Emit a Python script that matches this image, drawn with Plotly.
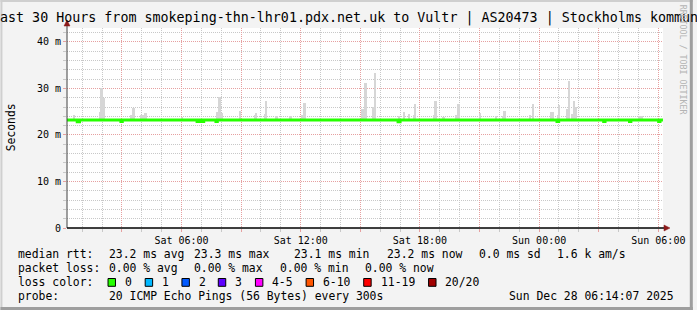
import plotly.graph_objects as go

# ---------------- data ----------------
title_text = "Last 30 Hours from smokeping-thn-lhr01.pdx.net.uk to Vultr | AS20473 | Stockholms kommun"
range_start = "2025-12-27 00:14:07"
range_end = "2025-12-28 06:14:07"

# smoke spikes (time of sample, max rtt in ms)
smoke_times = [
    "2025-12-27 00:37", "2025-12-27 01:54", "2025-12-27 01:59", "2025-12-27 02:01", "2025-12-27 02:06",
    "2025-12-27 03:30", "2025-12-27 03:36", "2025-12-27 04:00", "2025-12-27 04:04", "2025-12-27 04:12",
    "2025-12-27 06:03", "2025-12-27 07:48", "2025-12-27 07:55", "2025-12-27 08:03", "2025-12-27 08:57",
    "2025-12-27 09:42", "2025-12-27 09:46", "2025-12-27 10:12", "2025-12-27 10:16", "2025-12-27 10:48",
    "2025-12-27 11:30", "2025-12-27 12:06", "2025-12-27 12:12", "2025-12-27 15:06", "2025-12-27 15:11",
    "2025-12-27 15:16", "2025-12-27 15:40", "2025-12-27 15:46", "2025-12-27 16:58", "2025-12-27 17:12",
    "2025-12-27 17:27", "2025-12-27 17:42", "2025-12-27 17:46", "2025-12-27 18:44", "2025-12-27 18:48",
    "2025-12-27 19:12", "2025-12-27 19:51", "2025-12-27 19:57", "2025-12-27 21:03", "2025-12-27 21:51",
    "2025-12-27 22:12", "2025-12-27 22:16", "2025-12-27 23:34", "2025-12-27 23:42", "2025-12-28 00:36",
    "2025-12-28 00:41", "2025-12-28 00:57", "2025-12-28 01:01", "2025-12-28 01:24", "2025-12-28 01:31",
    "2025-12-28 01:42", "2025-12-28 01:46", "2025-12-28 01:51", "2025-12-28 05:04", "2025-12-28 05:10",
]
smoke_max = [
    24.3, 24.9, 30.0, 29.9, 28.0,
    24.3, 25.9, 24.4, 24.4, 24.7,
    23.9, 24.9, 28.2, 24.8, 25.1,
    24.2, 24.8, 24.5, 27.2, 24.1,
    24.0, 24.3, 26.9, 25.6, 25.6,
    31.1, 26.0, 33.3, 24.0, 24.9,
    24.5, 24.3, 26.6, 24.4, 27.2,
    23.8, 24.3, 26.7, 24.7, 24.0,
    24.0, 25.2, 24.3, 26.7, 25.0,
    25.0, 24.3, 26.5, 25.5, 31.5,
    24.5, 27.4, 26.1, 24.0, 24.0,
]
smoke_min = [23.0] * len(smoke_times)

# median rtt (step series, ms)
median_times = [
    "2025-12-27 00:14", "2025-12-27 00:45", "2025-12-27 00:52", "2025-12-27 02:57", "2025-12-27 03:01",
    "2025-12-27 06:47", "2025-12-27 06:52", "2025-12-27 07:00", "2025-12-27 07:07", "2025-12-27 07:44",
    "2025-12-27 07:48", "2025-12-27 16:54", "2025-12-27 17:00", "2025-12-28 00:54", "2025-12-28 00:59",
    "2025-12-28 03:15", "2025-12-28 03:19", "2025-12-28 04:33", "2025-12-28 04:37", "2025-12-28 06:01",
    "2025-12-28 06:05", "2025-12-28 06:14",
]
median_vals = [
    23.2, 22.85, 23.2, 22.9, 23.2,
    22.9, 23.2, 22.9, 23.2, 22.9,
    23.2, 22.85, 23.2, 22.9, 23.2,
    22.9, 23.2, 22.9, 23.2, 22.9,
    23.2, 23.2,
]

y_tickvals = [0, 10, 20, 30, 40]
y_ticktext = ["0", "10 m", "20 m", "30 m", "40 m"]
x_tickvals = [
    "2025-12-27 03:00", "2025-12-27 06:00", "2025-12-27 09:00", "2025-12-27 12:00", "2025-12-27 15:00",
    "2025-12-27 18:00", "2025-12-27 21:00", "2025-12-28 00:00", "2025-12-28 03:00", "2025-12-28 06:00",
]
x_ticktext = ["", "Sat 06:00", "", "Sat 12:00", "", "Sat 18:00", "", "Sun 00:00", "", "Sun 06:00"]

legend_rows = [
    ["median rtt:", "23.2 ms avg", "23.3 ms max", "23.1 ms min", "23.2 ms now", "0.0 ms sd", "1.6 k am/s"],
    ["packet loss:", "0.00 % avg", "0.00 % max", "0.00 % min", "0.00 % now"],
]
loss_labels = ["0", "1", "2", "3", "4-5", "6-10", "11-19", "20/20"]
loss_colors = ["#26ff00", "#00b8ff", "#0059ff", "#5e00ff", "#ff00ff", "#ff5500", "#ff0000", "#a10000"]
probe_text = "20 ICMP Echo Pings (56 Bytes) every 300s"
stamp_text = "Sun Dec 28 06:14:07 2025"

# ---------------- layout helpers ----------------
W, H = 697, 310
PL, PR, PT, PB = 67, 667, 28, 228
MONO = "DejaVu Sans Mono"


def px(x):
    return (x - PL) / (PR - PL)


def py(y):
    return (PB - y) / (PB - PT)


fig = go.Figure()
fig.add_trace(go.Bar(
    x=smoke_times, y=[a - b for a, b in zip(smoke_max, smoke_min)], base=smoke_min,
    width=330000, marker=dict(color="#d6d6d6", line=dict(width=0)), hoverinfo="skip",
))
fig.add_trace(go.Scatter(
    x=median_times, y=median_vals, mode="lines", line=dict(color="#26ff00", width=3, shape="hv"),
    hoverinfo="skip",
))

annotations = []
shapes = []

# title
annotations.append(dict(text=title_text, x=px(346.6), y=py(18.5), xref="paper", yref="paper",
                        xanchor="center", yanchor="middle", showarrow=False,
                        font=dict(family=MONO, size=13.33, color="#000000")))
# rrdtool credit
annotations.append(dict(text="RRDTOOL / TOBI OETIKER", x=px(687.5), y=py(60), xref="paper", yref="paper",
                        xanchor="center", yanchor="middle", showarrow=False, textangle=90,
                        font=dict(family=MONO, size=8.3, color="#b4b4b4")))
# y title
annotations.append(dict(text="Seconds", x=px(11), y=py(127), xref="paper", yref="paper",
                        xanchor="center", yanchor="middle", showarrow=False, textangle=-90,
                        font=dict(family=MONO, size=11.4, color="#000000")))

row_y = [254.3, 268.3, 282.3, 296.0]
row_x = [
    [16, 107.3, 193.3, 293.3, 386.7, 479.3, 558.3],
    [16, 107.3, 193.3, 279.3, 365.0],
]
LF = dict(family=MONO, size=11.4, color="#000000")
for r, row in enumerate(legend_rows):
    for t, xx in zip(row, row_x[r]):
        annotations.append(dict(text=t, x=px(xx), y=py(row_y[r]), xref="paper", yref="paper",
                                xanchor="left", yanchor="middle", showarrow=False, font=LF))
annotations.append(dict(text="loss color:", x=px(16), y=py(row_y[2]), xref="paper", yref="paper",
                        xanchor="left", yanchor="middle", showarrow=False, font=LF))
box_x = [108.3, 145.7, 182.7, 219.3, 256.7, 307.7, 365.7, 431.0]
for lab, col, bx in zip(loss_labels, loss_colors, box_x):
    shapes.append(dict(type="rect", xref="paper", yref="paper", x0=px(bx), x1=px(bx + 7.5),
                       y0=py(row_y[2] + 4), y1=py(row_y[2] - 3.8), fillcolor=col,
                       line=dict(color="#000000", width=1)))
    annotations.append(dict(text=lab, x=px(bx + 15), y=py(row_y[2]), xref="paper", yref="paper",
                            xanchor="left", yanchor="middle", showarrow=False, font=LF))
annotations.append(dict(text="probe:", x=px(16), y=py(row_y[3]), xref="paper", yref="paper",
                        xanchor="left", yanchor="middle", showarrow=False, font=LF))
annotations.append(dict(text=probe_text, x=px(107.3), y=py(row_y[3]), xref="paper", yref="paper",
                        xanchor="left", yanchor="middle", showarrow=False, font=LF))
annotations.append(dict(text=stamp_text, x=px(680), y=py(row_y[3]), xref="paper", yref="paper",
                        xanchor="right", yanchor="middle", showarrow=False, font=LF))

# axes lines & arrows
shapes.append(dict(type="line", xref="paper", yref="paper", x0=px(PL), x1=px(PL), y0=py(PB), y1=py(22),
                   line=dict(color="#404040", width=1)))
shapes.append(dict(type="line", xref="paper", yref="paper", x0=px(PL), x1=px(669), y0=py(PB), y1=py(PB),
                   line=dict(color="#000000", width=1.6)))
shapes.append(dict(type="path", xref="paper", yref="paper",
                   path=f"M {px(64)} {py(26)} L {px(70)} {py(26)} L {px(67)} {py(20)} Z",
                   fillcolor="#8b1a1a", line=dict(color="#8b1a1a", width=0.5)))
shapes.append(dict(type="path", xref="paper", yref="paper",
                   path=f"M {px(668)} {py(225)} L {px(668)} {py(231)} L {px(674)} {py(228)} Z",
                   fillcolor="#8b1a1a", line=dict(color="#8b1a1a", width=0.5)))
# 3D frame
shapes.append(dict(type="rect", xref="paper", yref="paper", x0=px(0), x1=px(W), y0=py(H), y1=py(0),
                   line=dict(width=0), fillcolor="rgba(0,0,0,0)", layer="below"))
shapes.append(dict(type="line", xref="paper", yref="paper", x0=px(0), x1=px(W), y0=py(1), y1=py(1),
                   line=dict(color="#cfcfcf", width=2)))
shapes.append(dict(type="line", xref="paper", yref="paper", x0=px(1), x1=px(1), y0=py(0), y1=py(H),
                   line=dict(color="#cfcfcf", width=2)))
shapes.append(dict(type="line", xref="paper", yref="paper", x0=px(0), x1=px(W), y0=py(H - 1.5), y1=py(H - 1.5),
                   line=dict(color="#9e9e9e", width=3)))
shapes.append(dict(type="line", xref="paper", yref="paper", x0=px(W - 1.5), x1=px(W - 1.5), y0=py(0), y1=py(H),
                   line=dict(color="#9e9e9e", width=3)))

MAJ = "#e6a0a0"
MIN = "#c8c8c8"
fig.update_layout(
    width=W, height=H, autosize=False,
    margin=dict(l=PL, r=W - PR, t=PT, b=H - PB, pad=0),
    paper_bgcolor="#f3f3f3", plot_bgcolor="#ffffff",
    showlegend=False, barmode="overlay", bargap=0,
    annotations=annotations, shapes=shapes,
    font=dict(family=MONO, color="#000000"),
    xaxis=dict(
        type="date", range=[range_start, range_end], tickmode="array",
        tickvals=x_tickvals, ticktext=x_ticktext,
        showgrid=True, gridcolor=MAJ, griddash="1px,1px", gridwidth=1,
        ticks="outside", ticklen=3, tickcolor=MAJ, tickwidth=1,
        tickfont=dict(family=MONO, size=10, color="#000000"),
        minor=dict(tickmode="linear", tick0="2025-12-27 00:00", dtick=3600000, showgrid=True,
                   gridcolor=MIN, griddash="1px,1px", gridwidth=1, ticks="outside", ticklen=3,
                   tickcolor=MIN),
        showline=False, zeroline=False, fixedrange=True,
    ),
    yaxis=dict(
        range=[0, 43], tickmode="array", tickvals=y_tickvals, ticktext=y_ticktext,
        showgrid=True, gridcolor=MAJ, griddash="1px,1px", gridwidth=1,
        ticks="outside", ticklen=3, tickcolor=MAJ,
        tickfont=dict(family=MONO, size=10, color="#000000"),
        minor=dict(tickmode="linear", tick0=0, dtick=2, showgrid=True, gridcolor=MIN,
                   griddash="1px,1px", gridwidth=1, ticks="outside", ticklen=3, tickcolor=MIN),
        showline=False, zeroline=False, fixedrange=True,
    ),
)

fig.write_html("out.html", config={"displayModeBar": False})
